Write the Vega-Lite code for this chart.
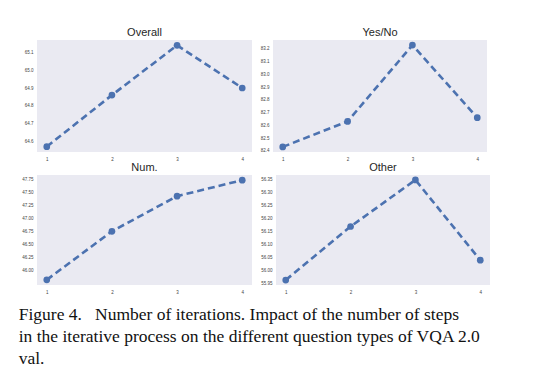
{
  "$schema": "https://vega.github.io/schema/vega-lite/v6.json",
  "background": "white",
  "padding": {"left": 18, "top": 26, "right": 5, "bottom": 5},
  "datasets": {
    "d": [
      {"metric": "Overall", "iter": 1, "acc": 64.57},
      {"metric": "Overall", "iter": 2, "acc": 64.86},
      {"metric": "Overall", "iter": 3, "acc": 65.14},
      {"metric": "Overall", "iter": 4, "acc": 64.90},
      {"metric": "Yes/No", "iter": 1, "acc": 82.43},
      {"metric": "Yes/No", "iter": 2, "acc": 82.63},
      {"metric": "Yes/No", "iter": 3, "acc": 83.23},
      {"metric": "Yes/No", "iter": 4, "acc": 82.66},
      {"metric": "Num.", "iter": 1, "acc": 45.81},
      {"metric": "Num.", "iter": 2, "acc": 46.75},
      {"metric": "Num.", "iter": 3, "acc": 47.43},
      {"metric": "Num.", "iter": 4, "acc": 47.74},
      {"metric": "Other", "iter": 1, "acc": 55.963},
      {"metric": "Other", "iter": 2, "acc": 56.17},
      {"metric": "Other", "iter": 3, "acc": 56.35},
      {"metric": "Other", "iter": 4, "acc": 56.04}
    ]
  },
  "title": {
    "text": ["Figure 4.\u00a0\u00a0 Number of iterations. Impact of the number of steps", "in the iterative process on the different question types of VQA 2.0", "val."],
    "orient": "bottom",
    "anchor": "start",
    "font": "Liberation Serif",
    "fontSize": 17.5,
    "fontWeight": "normal",
    "color": "#111111",
    "lineHeight": 22,
    "offset": 12,
    "dx": -3
  },
  "spacing": 0,
  "vconcat": [
    {
      "spacing": 8,
      "hconcat": [
        {
          "title": "Overall",
          "width": 215, "height": 112,
          "data": {"name": "d"},
          "transform": [{"filter": "datum.metric === 'Overall'"}],
          "encoding": {
            "x": {"field": "iter", "type": "quantitative", "scale": {"domain": [0.85, 4.15], "nice": false}, "axis": {"values": [1, 2, 3, 4], "title": null}},
            "y": {"field": "acc", "type": "quantitative", "scale": {"domain": [64.54, 65.17], "nice": false, "zero": false}, "axis": {"values": [64.6, 64.7, 64.8, 64.9, 65.0, 65.1], "format": ".1f", "title": null}}
          },
          "layer": [
            {"mark": {"type": "line", "strokeDash": [7, 4], "strokeWidth": 2.6, "color": "#4C72B0"}},
            {"mark": {"type": "point", "filled": true, "size": 45, "opacity": 1, "color": "#4C72B0"}}
          ]
        },
        {
          "title": "Yes/No",
          "width": 214, "height": 112,
          "data": {"name": "d"},
          "transform": [{"filter": "datum.metric === 'Yes/No'"}],
          "encoding": {
            "x": {"field": "iter", "type": "quantitative", "scale": {"domain": [0.85, 4.15], "nice": false}, "axis": {"values": [1, 2, 3, 4], "title": null}},
            "y": {"field": "acc", "type": "quantitative", "scale": {"domain": [82.39, 83.27], "nice": false, "zero": false}, "axis": {"values": [82.4, 82.5, 82.6, 82.7, 82.8, 82.9, 83.0, 83.1, 83.2], "format": ".1f", "title": null}}
          },
          "layer": [
            {"mark": {"type": "line", "strokeDash": [7, 4], "strokeWidth": 2.6, "color": "#4C72B0"}},
            {"mark": {"type": "point", "filled": true, "size": 45, "opacity": 1, "color": "#4C72B0"}}
          ]
        }
      ]
    },
    {
      "spacing": 8,
      "hconcat": [
        {
          "title": "Num.",
          "width": 215, "height": 110,
          "data": {"name": "d"},
          "transform": [{"filter": "datum.metric === 'Num.'"}],
          "encoding": {
            "x": {"field": "iter", "type": "quantitative", "scale": {"domain": [0.85, 4.15], "nice": false}, "axis": {"values": [1, 2, 3, 4], "title": null}},
            "y": {"field": "acc", "type": "quantitative", "scale": {"domain": [45.71, 47.84], "nice": false, "zero": false}, "axis": {"values": [46.0, 46.25, 46.5, 46.75, 47.0, 47.25, 47.5, 47.75], "format": ".2f", "title": null}}
          },
          "layer": [
            {"mark": {"type": "line", "strokeDash": [7, 4], "strokeWidth": 2.6, "color": "#4C72B0"}},
            {"mark": {"type": "point", "filled": true, "size": 45, "opacity": 1, "color": "#4C72B0"}}
          ]
        },
        {
          "title": "Other",
          "width": 214, "height": 110,
          "data": {"name": "d"},
          "transform": [{"filter": "datum.metric === 'Other'"}],
          "encoding": {
            "x": {"field": "iter", "type": "quantitative", "scale": {"domain": [0.85, 4.15], "nice": false}, "axis": {"values": [1, 2, 3, 4], "title": null}},
            "y": {"field": "acc", "type": "quantitative", "scale": {"domain": [55.944, 56.369], "nice": false, "zero": false}, "axis": {"values": [55.95, 56.0, 56.05, 56.1, 56.15, 56.2, 56.25, 56.3, 56.35], "format": ".2f", "title": null}}
          },
          "layer": [
            {"mark": {"type": "line", "strokeDash": [7, 4], "strokeWidth": 2.6, "color": "#4C72B0"}},
            {"mark": {"type": "point", "filled": true, "size": 45, "opacity": 1, "color": "#4C72B0"}}
          ]
        }
      ]
    }
  ],
  "config": {
    "view": {"fill": "#EAEAF2", "stroke": null},
    "axis": {
      "grid": false,
      "domain": false,
      "ticks": false,
      "labelFont": "Liberation Sans",
      "labelFontSize": 4.5,
      "labelColor": "#444444",
      "labelPadding": 4
    },
    "title": {
      "font": "Liberation Sans",
      "fontSize": 11,
      "fontWeight": "normal",
      "color": "#262626",
      "offset": 2
    }
  }
}
